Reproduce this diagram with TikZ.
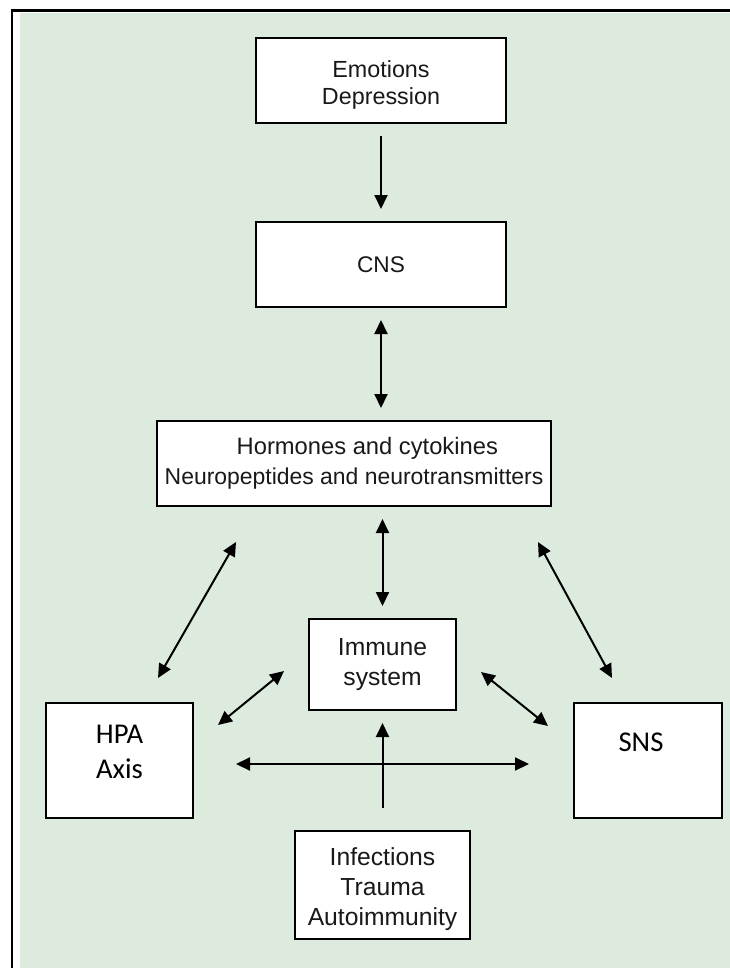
\documentclass[tikz,border=0pt]{standalone}
\usepackage{fontspec}
\setmainfont{Liberation Sans}
\newfontfamily\calib{Carlito}
\usetikzlibrary{arrows.meta}
\definecolor{bggreen}{RGB}{221,235,222}
\definecolor{txt}{RGB}{25,25,25}
\begin{document}
\begin{tikzpicture}[x=0.75pt,y=-0.75pt,
  box/.style={draw=black, line width=1.5pt, fill=white, align=center, inner sep=0pt,
    font=\fontsize{17}{22.5}\selectfont, text=txt},
  tl/.style={align=center, inner sep=0pt, text=txt},
  lbl/.style={align=center, text=black, font=\calib\fontsize{21.5}{26}\selectfont},
  tip/.tip={Triangle[length=10.5pt,width=9.75pt]},
  arr/.style={line width=1.5pt, -tip},
  darr/.style={line width=1.5pt, tip-tip},
  gap/.style={shorten <=9pt, shorten >=9pt}]
\useasboundingbox (0,0) rectangle (730,968);
\fill[bggreen] (20,13) rectangle (730,968);
\draw[line width=1.7pt] (12.2,968) -- (12.2,10.5) -- (730,10.5);

\node[box, minimum width=187.5pt, minimum height=63.75pt,
  label={[tl, yshift=-3.5pt, font=\fontsize{17.5}{20.5}\selectfont]center:{Emotions\\Depression}}] (emo) at (381,80.5) {};
\node[box, minimum width=187.5pt, minimum height=63.75pt] (cns) at (381,264.5) {CNS};
\node[box, minimum width=295.5pt, minimum height=63.75pt,
  label={[tl, font=\fontsize{17.2}{22.5}\selectfont]center:{\fontsize{17.8}{22.5}\selectfont\hspace*{20pt}Hormones and cytokines\\Neuropeptides and neurotransmitters}}] (hor) at (354,463.5) {};
\node[box, minimum width=110.25pt, minimum height=68.25pt, font=\fontsize{18.5}{23}\selectfont] (imm) at (382.5,664.5) {Immune\\system};
\node[box, minimum width=110.25pt, minimum height=86.25pt,
  label={[lbl, yshift=6.4pt]center:{HPA\\Axis}}] (hpa) at (119.5,760.5) {};
\node[box, minimum width=111pt, minimum height=86.25pt,
  label={[lbl, xshift=-5.25pt, yshift=13.9pt]center:SNS}] (sns) at (648,760.5) {};
\node[box, minimum width=131.25pt, minimum height=81pt,
  label={[tl, yshift=-3pt, font=\fontsize{18.5}{22.5}\selectfont]center:{Infections\\Trauma\\Autoimmunity}}] (inf) at (382.5,885) {};

\coordinate (dlA) at (236,542);
\coordinate (dlB) at (158,678);
\coordinate (drA) at (538,542);
\coordinate (drB) at (612,678);
\coordinate (hiA) at (218,725);
\coordinate (hiB) at (284,671);
\coordinate (isA) at (481,672);
\coordinate (isB) at (548,726);
\coordinate (hzA) at (236,764);
\coordinate (hzB) at (529,764);

\draw[arr, gap] (emo.south) -- (cns.north);
\draw[darr, gap] (cns.south) -- (cns.south |- hor.north);
\draw[darr, gap] (imm.north |- hor.south) -- (imm.north);
\draw[darr] (dlA) -- (dlB);
\draw[darr] (drA) -- (drB);
\draw[darr] (hiA) -- (hiB);
\draw[darr] (isA) -- (isB);
\draw[darr] (hzA) -- (hzB);
\draw[arr, shorten <=16.5pt, shorten >=9pt] (inf.north) -- (imm.south);
\end{tikzpicture}
\end{document}
